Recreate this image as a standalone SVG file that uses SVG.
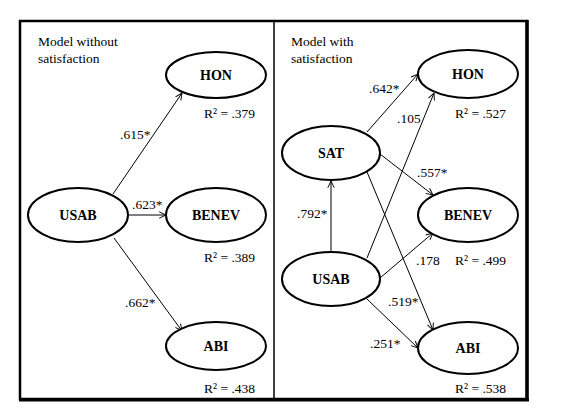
<svg xmlns="http://www.w3.org/2000/svg" width="564" height="412" viewBox="0 0 564 412">
<style>
.node{fill:#fff;stroke:#000;stroke-width:2}
.lbl{font-weight:bold;font-size:14px;text-anchor:middle}
.t{font-size:13.5px;fill:#000}
.c line{stroke:#000;stroke-width:1;marker-end:url(#ah)}
</style>
<defs>
<marker id="ah" viewBox="0 0 10 10" refX="9.5" refY="5" markerWidth="8" markerHeight="8" markerUnits="userSpaceOnUse" orient="auto">
<path d="M1,1 L9.5,5 L1,9" fill="none" stroke="#000" stroke-width="1.2"/>
</marker>
</defs>
<rect x="0" y="0" width="564" height="412" fill="#fff"/>
<rect x="20" y="21" width="507" height="378" fill="none" stroke="#000" stroke-width="2.5"/>
<line x1="274" y1="21" x2="274" y2="399" stroke="#000" stroke-width="1.5"/>
<line x1="527" y1="20" x2="527" y2="401" stroke="#000" stroke-width="3.5"/>
<line x1="19" y1="400" x2="529" y2="400" stroke="#000" stroke-width="3"/>

<g class="c" id="connectors">
<line x1="113" y1="194" x2="182" y2="93"/>
<line x1="128" y1="215" x2="166" y2="215"/>
<line x1="114" y1="238" x2="182" y2="331"/>
<line x1="331" y1="252" x2="331" y2="181"/>
<line x1="367" y1="132" x2="418" y2="74"/>
<line x1="367" y1="258" x2="434" y2="93"/>
<line x1="380" y1="154" x2="433" y2="195"/>
<line x1="367" y1="172" x2="433" y2="330"/>
<line x1="380" y1="278" x2="433" y2="233"/>
<line x1="367" y1="299" x2="418" y2="348"/>
</g>

<g font-family="Liberation Serif, Times New Roman, DejaVu Serif, serif">
<g id="L-HON"><ellipse class="node" cx="216" cy="75" rx="50" ry="23"/><text class="lbl" x="216" y="80">HON</text></g>
<g id="L-USAB"><ellipse class="node" cx="78" cy="215" rx="50" ry="27"/><text class="lbl" x="78" y="220">USAB</text></g>
<g id="L-BENEV"><ellipse class="node" cx="216" cy="215" rx="50" ry="27"/><text class="lbl" x="216" y="220">BENEV</text></g>
<g id="L-ABI"><ellipse class="node" cx="216" cy="346" rx="50" ry="24"/><text class="lbl" x="216" y="351">ABI</text></g>

<g id="R-HON"><ellipse class="node" cx="468" cy="74" rx="50" ry="24"/><text class="lbl" x="468" y="79">HON</text></g>
<g id="R-SAT"><ellipse class="node" cx="331" cy="153" rx="49" ry="27"/><text class="lbl" x="331" y="158">SAT</text></g>
<g id="R-USAB"><ellipse class="node" cx="331" cy="279" rx="49" ry="27"/><text class="lbl" x="331" y="284">USAB</text></g>
<g id="R-BENEV"><ellipse class="node" cx="468" cy="215" rx="50" ry="27"/><text class="lbl" x="468" y="220">BENEV</text></g>
<g id="R-ABI"><ellipse class="node" cx="468" cy="348" rx="50" ry="26"/><text class="lbl" x="468" y="353">ABI</text></g>

<g id="labels">
<text class="t" x="38" y="46">Model without</text>
<text class="t" x="38" y="63">satisfaction</text>
<text class="t" x="291" y="46">Model with</text>
<text class="t" x="291" y="63">satisfaction</text>
<text class="t" x="204" y="118">R² = .379</text>
<text class="t" x="204" y="262">R² = .389</text>
<text class="t" x="204" y="393">R² = .438</text>
<text class="t" x="120" y="139">.615*</text>
<text class="t" x="132" y="209">.623*</text>
<text class="t" x="125" y="307">.662*</text>
<text class="t" x="455" y="118">R² = .527</text>
<text class="t" x="455" y="265">R² = .499</text>
<text class="t" x="455" y="393">R² = .538</text>
<text class="t" x="369" y="93">.642*</text>
<text class="t" x="397" y="123">.105</text>
<text class="t" x="417" y="177">.557*</text>
<text class="t" x="297" y="218">.792*</text>
<text class="t" x="416" y="265">.178</text>
<text class="t" x="388" y="306">.519*</text>
<text class="t" x="370" y="348">.251*</text>
</g>
</g>
</svg>
